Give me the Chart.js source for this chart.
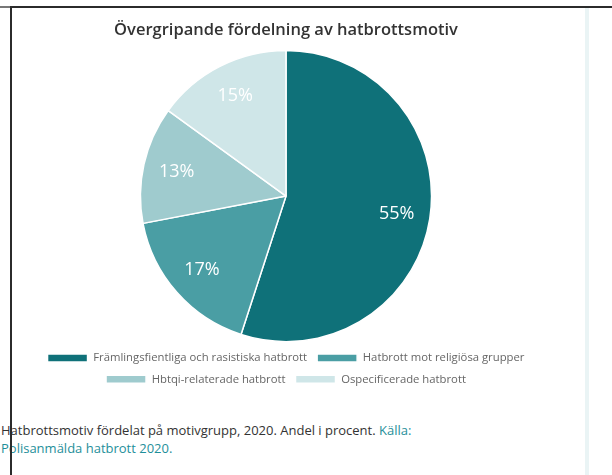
<!DOCTYPE html>
<html>
<head>
<meta charset="utf-8">
<script src="https://cdn.jsdelivr.net/npm/chart.js@4/dist/chart.umd.min.js"></script>
<style>
  html, body { margin: 0; padding: 0; background: #fff; width: 612px; height: 475px; overflow: hidden; }
  #frame-top { position: absolute; left: 0; top: 6px; width: 612px; height: 2px; background: #2b2b2b; }
  #frame-top-stub { position: absolute; left: 0; top: 6px; width: 11px; height: 2px; background: #777; }
  #frame-left { position: absolute; left: 10px; top: 6px; width: 2px; height: 469px; background: #2b2b2b; z-index: 2; }
  #side-strip { position: absolute; left: 585px; top: 8px; width: 4px; height: 467px; background: #eaf4f5; }
  #wrap { position: absolute; left: 12px; top: 8px; width: 548px; height: 397px; }
  #caption { position: absolute; left: 1px; top: 421px; width: 560px; font-family: "Open Sans", sans-serif; font-size: 13px; line-height: 18px; color: #333; }
  #caption span { color: #1f8f9a; }
</style>
</head>
<body>
<div id="frame-top"></div>
<div id="frame-top-stub"></div>
<div id="frame-left"></div>
<div id="side-strip"></div>
<div id="wrap"><canvas id="chart"></canvas></div>
<div id="caption">Hatbrottsmotiv fördelat på motivgrupp, 2020. Andel i procent. <span>Källa:<br>Polisanmälda hatbrott 2020.</span></div>
<script>
var labels = [
    "Främlingsfientliga och rasistiska hatbrott",
    "Hatbrott mot religiösa grupper",
    "Hbtqi-relaterade hatbrott",
    "Ospecificerade hatbrott"
];
var values = [55, 17, 13, 15];
var colors = ["#0f7179", "#4a9ea4", "#9fcbce", "#cfe6e8"];
var title = "Övergripande fördelning av hatbrottsmotiv";

// percent text inside each slice
var sliceLabels = {
    id: "sliceLabels",
    afterDatasetsDraw: function(chart) {
        var ctx = chart.ctx;
        var meta = chart.getDatasetMeta(0);
        ctx.save();
        ctx.fillStyle = "#ffffff";
        ctx.font = "18px 'Open Sans', sans-serif";
        ctx.textAlign = "center";
        ctx.textBaseline = "middle";
        meta.data.forEach(function(arc, i) {
            var mid = (arc.startAngle + arc.endAngle) / 2;
            var r = arc.outerRadius * 0.77;
            ctx.fillText(values[i] + "%", arc.x + Math.cos(mid) * r, arc.y + Math.sin(mid) * r);
        });
        ctx.restore();
    }
};

// a little more room between pie and legend
var legendGap = {
    id: "legendGap",
    beforeInit: function(chart) {
        var fit = chart.legend.fit;
        chart.legend.fit = function() {
            fit.bind(chart.legend)();
            this.height += 10;
        };
    }
};

var chart = new Chart(document.getElementById("chart"), {
    type: "pie",
    data: {
        labels: labels,
        datasets: [{
            data: values,
            backgroundColor: colors,
            borderColor: "#ffffff",
            borderWidth: 1.5
        }]
    },
    options: {
        responsive: true,
        maintainAspectRatio: false,
        animation: false,
        plugins: {
            title: {
                display: true,
                text: title,
                color: "#333",
                font: { family: "'Open Sans', sans-serif", size: 16.5, weight: "600" },
                padding: { top: 12, bottom: 10 }
            },
            legend: {
                position: "bottom",
                labels: {
                    boxWidth: 40,
                    boxHeight: 8,
                    color: "#666",
                    padding: 10,
                    font: { family: "'Open Sans', sans-serif", size: 11.3 }
                }
            },
            tooltip: { enabled: false }
        }
    },
    plugins: [sliceLabels, legendGap]
});
</script>
</body>
</html>
